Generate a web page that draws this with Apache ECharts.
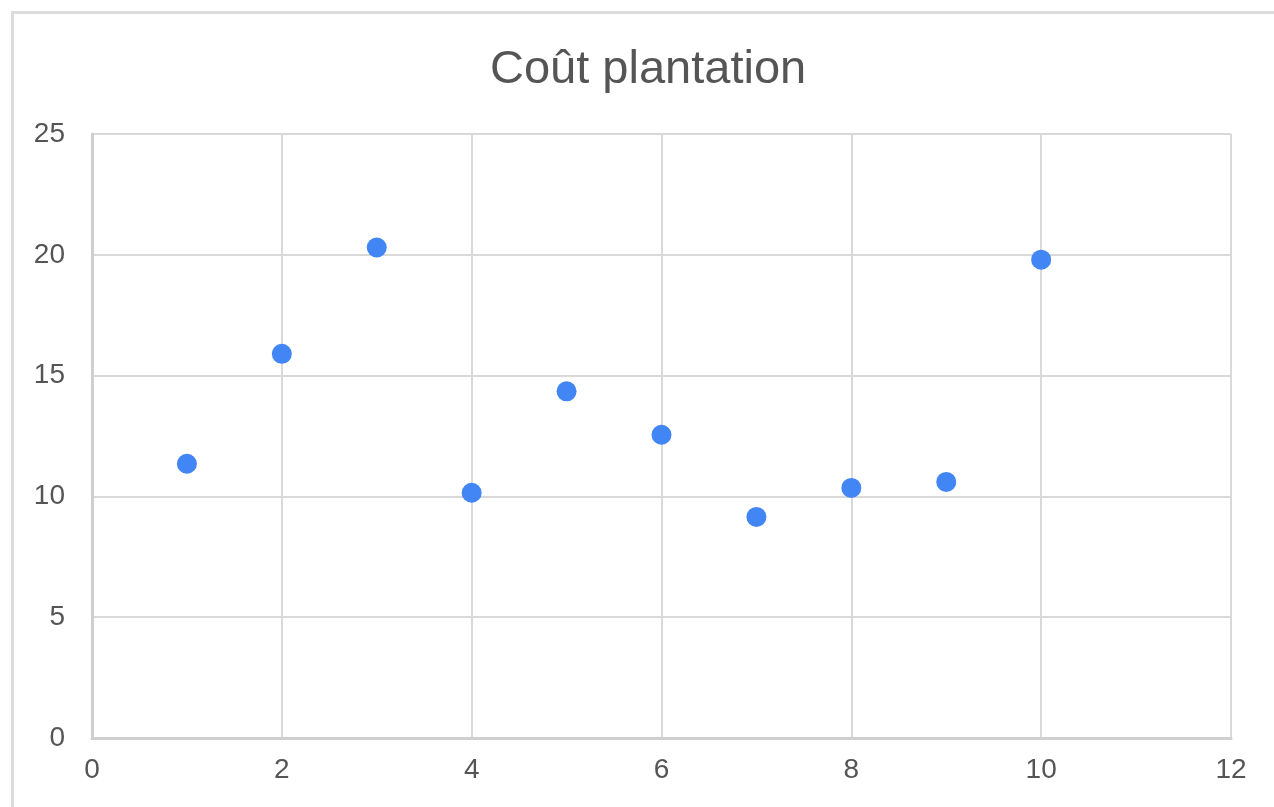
<!DOCTYPE html>
<html>
<head>
<meta charset="utf-8">
<script src="https://cdn.jsdelivr.net/npm/echarts@6/dist/echarts.min.js"></script>
<style>
  html, body { margin: 0; padding: 0; background: #fff; overflow: hidden; }
  .frame {
    position: absolute; left: 11px; top: 11px; width: 1300px; height: 830px;
    border-left: 3px solid #dcdcdc; border-top: 3px solid #dcdcdc;
  }
  #chart { position: absolute; left: 0; top: 0; width: 1274px; height: 807px; }
</style>
</head>
<body>
<div class="frame"></div>
<div id="chart"></div>
<script>
// valeurs
const xValues = [1, 2, 3, 4, 5, 6, 7, 8, 9, 10]
const coutPlantation = [11.35, 15.9, 20.3, 10.15, 14.35, 12.55, 9.15, 10.35, 10.6, 19.8]

const points = xValues.map((x, i) => [x, coutPlantation[i]])

const chart = echarts.init(document.getElementById('chart'))
const labelStyle = { color: '#555', fontSize: 28, fontFamily: 'Liberation Sans, Arial, sans-serif' }
const gridLine = { show: true, lineStyle: { color: '#d9d9d9', width: 2 } }

chart.setOption({
  animation: false,
  title: {
    text: 'Coût plantation',
    left: 485,
    top: 42,
    textStyle: { color: '#555', fontSize: 47, fontWeight: 'normal', fontFamily: 'Liberation Sans, Arial, sans-serif' }
  },
  grid: { left: 92, right: 43, top: 134, bottom: 69 },
  xAxis: {
    type: 'value',
    min: 0,
    max: 12,
    interval: 2,
    axisLine: { show: true, lineStyle: { color: '#cfcfcf', width: 3 } },
    axisTick: { show: false },
    splitLine: gridLine,
    axisLabel: { ...labelStyle, margin: 18 }
  },
  yAxis: {
    type: 'value',
    min: 0,
    max: 25,
    interval: 5,
    axisLine: { show: true, lineStyle: { color: '#cfcfcf', width: 3 } },
    axisTick: { show: false },
    splitLine: gridLine,
    axisLabel: { ...labelStyle, margin: 27 }
  },
  series: [
    {
      type: 'scatter',
      data: points,
      symbolSize: 20,
      itemStyle: { color: '#4285f4', opacity: 1 }
    }
  ]
})
</script>
</body>
</html>
